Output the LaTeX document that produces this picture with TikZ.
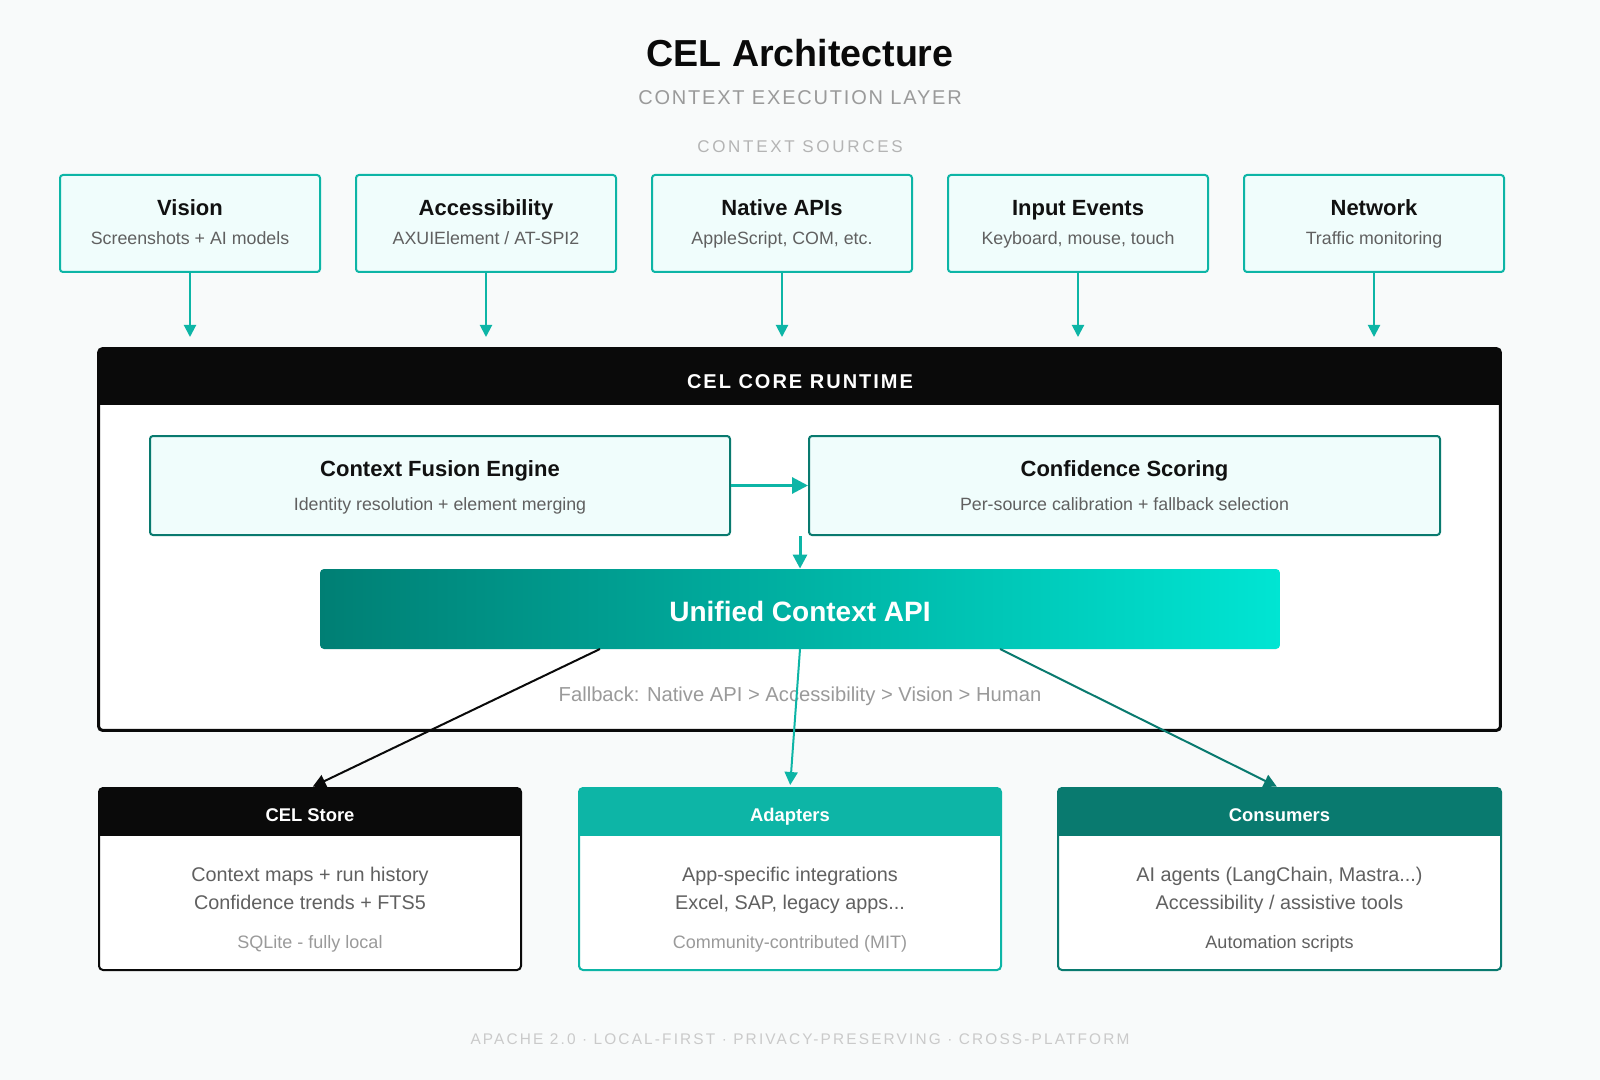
\documentclass[tikz,border=0pt]{standalone}
\usepackage{fontspec}
\setmainfont{Liberation Sans}
\newfontfamily\spacedA[LetterSpace=9]{Liberation Sans}
\newfontfamily\spacedB[LetterSpace=16]{Liberation Sans}
\newfontfamily\spacedC[LetterSpace=10]{Liberation Sans}
\newfontfamily\spacedD[LetterSpace=14]{Liberation Sans}
\usetikzlibrary{arrows.meta}
\definecolor{bgcol}{HTML}{F8FAFA}
\definecolor{tealA}{HTML}{0DB5A6}
\definecolor{tealD}{HTML}{097A6F}
\definecolor{lightfill}{HTML}{F0FDFC}
\definecolor{inkblack}{HTML}{0A0A0A}
\definecolor{gradL}{HTML}{007F74}
\definecolor{gradR}{HTML}{00E5D3}
\definecolor{txtdark}{HTML}{111111}
\definecolor{txtmid}{HTML}{606060}
\definecolor{txtlight}{HTML}{9A9A9A}
\definecolor{txtfaint}{HTML}{B4B4B4}
\definecolor{txtfooter}{HTML}{CACACA}
\tikzset{
  captxt/.style={inner sep=0pt, text depth=0pt, text height=#1},
  srcbox/.style={draw=tealA, line width=1pt, fill=lightfill, rounded corners=1.5pt,
    minimum width=130pt, minimum height=48.5pt, inner sep=0pt},
  corebox/.style={draw=tealD, line width=1pt, fill=lightfill, rounded corners=1.5pt,
    minimum height=49.5pt, inner sep=0pt},
  titletxt/.style={font=\fontsize{11}{13}\selectfont\bfseries, text=txtdark, captxt=7.9pt},
  subtxt/.style={font=\fontsize{8.9}{10}\selectfont, text=txtmid, captxt=6.4pt},
  srcarrow/.style={draw=tealA, line width=1pt, -{Triangle[length=6pt,width=6pt]}},
  bodytxt/.style={font=\fontsize{9.9}{11}\selectfont, text=txtmid, captxt=7.1pt},
  smalltxt/.style={font=\fontsize{9}{10}\selectfont, text=txtlight, captxt=6.5pt},
  bottombox/.style={line width=1pt, rounded corners=2pt, minimum height=90pt, inner sep=0pt, fill=white},
  headtxt/.style={font=\fontsize{9.2}{11}\selectfont\bfseries, text=white, captxt=6.6pt},
}
\begin{document}
\begin{tikzpicture}[x=0.5pt,y=-0.5pt]
\fill[bgcol] (0,0) rectangle (1600,1080);
\useasboundingbox (0,0) rectangle (1600,1080);

% titles
\node[font=\fontsize{18.8}{22}\selectfont\bfseries, text=inkblack, captxt=13.5pt] (title) at (800,53) {CEL Architecture};
\node[font=\fontsize{10}{12}\selectfont\spacedA, text=txtlight, captxt=7.2pt] (subtitle) at (800,97) {CONTEXT EXECUTION LAYER};
\node[font=\fontsize{8.5}{10}\selectfont\spacedB, text=txtfaint, captxt=6.1pt] (srclabel) at (800,146) {CONTEXT SOURCES};

% source boxes
\foreach \nm/\cx/\ttl/\sub in {vision/190/Vision/{Screenshots + AI models},
  access/486/Accessibility/{AXUIElement {/} AT-SPI2},
  native/782/Native APIs/{AppleScript, COM, etc.},
  input/1078/Input Events/{Keyboard, mouse, touch},
  network/1374/Network/{Traffic monitoring}}{
  \node[srcbox] (\nm) at (\cx,223.5) {};
  \node[titletxt] (\nm-t) at (\cx,208) {\ttl};
  \node[subtxt] (\nm-s) at (\cx,238) {\sub};
  \coordinate (\nm-end) at (\cx,337);
  \draw[srcarrow] (\nm.south) -- (\nm-end);
}

% core runtime container
\node[minimum width=700.5pt, minimum height=190.5pt, inner sep=0pt, fill=white] (core) at (799.5,539.5) {};
\begin{scope}
  \clip[rounded corners=2pt] (core.north west) rectangle (core.south east);
  \fill[inkblack] (core.north west) rectangle (1501,405);
\end{scope}
\draw[inkblack, line width=1.5pt, rounded corners=2pt] (core.north west) rectangle (core.south east);
\node[font=\fontsize{10}{12}\selectfont\bfseries\spacedC, text=white, captxt=7.2pt] (coretitle) at (800,381) {CEL CORE RUNTIME};

% fusion & confidence
\node[corebox, minimum width=290pt] (fusion) at (440,485.5) {};
\node[titletxt] (fusion-t) at (440,469) {Context Fusion Engine};
\node[subtxt] (fusion-s) at (440,504) {Identity resolution + element merging};
\node[corebox, minimum width=315.5pt] (conf) at (1124.5,485.5) {};
\node[titletxt] (conf-t) at (1124.5,469) {Confidence Scoring};
\node[subtxt] (conf-s) at (1124.5,504) {Per-source calibration + fallback selection};
\draw[draw=tealA, line width=1.5pt, -{Triangle[length=8pt,width=8pt]}] (fusion.east) -- (conf.west);

% unified API
\node[left color=gradL, right color=gradR, rounded corners=2pt, minimum width=480pt, minimum height=40pt, inner sep=0pt] (unified) at (800,609) {};
\node[font=\fontsize{14}{16}\selectfont\bfseries, text=white, captxt=10pt] (unified-t) at (800,611) {Unified Context API};
\coordinate (downstart) at (800,536);
\draw[draw=tealA, line width=1.5pt, -{Triangle[length=7pt,width=7pt]}] (downstart) -- (unified.north);

\node[font=\fontsize{10.1}{12}\selectfont, text=txtlight, captxt=7.3pt] (fallback) at (800,694) {Fallback: Native API > Accessibility > Vision > Human};

% bottom boxes
\node[bottombox, minimum width=210pt] (store) at (310,879) {};
\node[bottombox, minimum width=210pt] (adapters) at (790,879) {};
\node[bottombox, minimum width=220.5pt] (consumers) at (1279.5,879) {};
\foreach \nm/\col in {store/inkblack, adapters/tealA, consumers/tealD}{
  \begin{scope}
    \clip[rounded corners=2pt] (\nm.north west) rectangle (\nm.south east);
    \fill[\col] (\nm.north west) rectangle ([yshift=-24pt]\nm.north east);
  \end{scope}
  \draw[\col, line width=1pt, rounded corners=2pt] (\nm.north west) rectangle (\nm.south east);
}
\node[headtxt] (store-h) at (310,815) {CEL Store};
\node[bodytxt] (store-a) at (310,874) {Context maps + run history};
\node[bodytxt] (store-b) at (310,902) {Confidence trends + FTS5};
\node[smalltxt] (store-c) at (310,942) {SQLite - fully local};

\node[headtxt] (adapters-h) at (790,815) {Adapters};
\node[bodytxt] (adapters-a) at (790,874) {App-specific integrations};
\node[bodytxt] (adapters-b) at (790,902) {Excel, SAP, legacy apps...};
\node[smalltxt] (adapters-c) at (790,942) {Community-contributed (MIT)};

\node[headtxt] (consumers-h) at (1279.5,815) {Consumers};
\node[bodytxt] (consumers-a) at (1279.5,874) {AI agents (LangChain, Mastra...)};
\node[bodytxt] (consumers-b) at (1279.5,902) {Accessibility / assistive tools};
\node[smalltxt, text=txtmid] (consumers-c) at (1279.5,942) {Automation scripts};

% connectors to bottom
\coordinate (o1) at (600,649);
\coordinate (o2) at (800,649);
\coordinate (o3) at (1000,649);
\draw[draw=inkblack, line width=1pt, shorten >=1.5pt, -{Triangle[length=6.5pt,width=6.5pt]}] (o1) -- (store.north);
\draw[draw=tealA, line width=1pt, shorten >=1.5pt, -{Triangle[length=6.5pt,width=6.5pt]}] (o2) -- (adapters.north);
\draw[draw=tealD, line width=1pt, shorten >=1.5pt, -{Triangle[length=6.5pt,width=6.5pt]}] (o3) -- (consumers.north);

% footer
\node[font=\fontsize{7.7}{9}\selectfont\spacedD, text=txtfooter, captxt=5.5pt] (footer) at (800,1039) {APACHE 2.0 · LOCAL-FIRST · PRIVACY-PRESERVING · CROSS-PLATFORM};
\end{tikzpicture}
\end{document}
